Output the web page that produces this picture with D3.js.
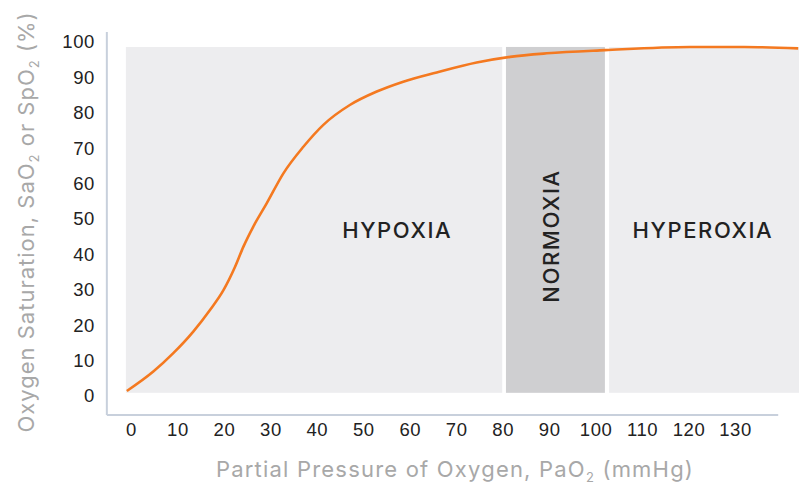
<!DOCTYPE html>
<html>
<head>
<meta charset="utf-8">
<script src="https://cdn.jsdelivr.net/npm/d3@7"></script>
<style>
  body { margin: 0; background: #fff; }
  svg { display: block; font-family: Inter, "Open Sans", sans-serif; }
</style>
</head>
<body>
<div id="chart"></div>
<script>
// curve readings (PaO2 in mmHg, saturation in %)
let pao2 = [-0.9, 4.8, 9.1, 13.4, 17.0, 19.9, 22.4, 24.2, 26.3, 29.2, 32.8, 37.1, 41.4, 47.1,
            52.9, 58.6, 65.8, 74.4, 81.6, 89.5, 102, 120.3, 132, 143.6];
let sat   = [1.4, 6.9, 12.1, 18.2, 24.3, 29.9, 36.5, 42.2, 47.8, 54.4, 62.9, 70.4, 76.6, 82.2,
            86.0, 88.8, 91.4, 94.2, 95.8, 96.8, 97.7, 98.6, 98.6, 98.2];

// shaded regions
let bandNames = ['HYPOXIA', 'NORMOXIA', 'HYPEROXIA'];
let bandFrom  = [-1.1, 80.7, 102.9];
let bandTo    = [79.9, 102.0, 144];
let bandLabelAt = [57.3, 90.3, 123.1];
let bandTop = 98.6, bandBottom = 0.9;

let xTicks = d3.range(0, 131, 10);
let yTicks = d3.range(0, 101, 10);

let config = {
    svg: {width: 799, height: 487}
};

// scales fitted to tick positions in the picture
let x = d3.scaleLinear().domain([0, 130]).range([131, 735]);
let y = d3.scaleLinear().domain([0, 100]).range([396, 42]);

let svg = d3.select('#chart')
    .append('svg')
        .attr('width', config.svg.width)
        .attr('height', config.svg.height);

// bands
let bands = bandNames.map((name, i) => ({name, from: bandFrom[i], to: bandTo[i], at: bandLabelAt[i]}));

svg.append('g')
    .selectAll('rect')
    .data(bands)
    .join('rect')
        .attr('x', d => x(d.from))
        .attr('width', d => x(d.to) - x(d.from))
        .attr('y', y(bandTop))
        .attr('height', y(bandBottom) - y(bandTop))
        .attr('fill', d => d.name === 'NORMOXIA' ? '#cfcfd1' : '#ededef');

// band labels
svg.append('g')
    .selectAll('text')
    .data(bands)
    .join('text')
        .attr('transform', d => d.name === 'NORMOXIA'
            ? `translate(${x(d.at) + 8},236) rotate(-90)`
            : `translate(${x(d.at)},238)`)
        .attr('text-anchor', 'middle')
        .attr('font-size', 22)
        .attr('font-weight', 500)
        .attr('fill', '#222')
        .attr('letter-spacing', 1.6)
        .text(d => d.name);

// axis frame lines
let frameX = [-5.2, 139.3], frameY = [-5.4, 102.8];
svg.append('line')
    .attr('x1', x(frameX[0])).attr('x2', x(frameX[0]))
    .attr('y1', y(frameY[0])).attr('y2', y(frameY[1]))
    .attr('stroke', '#c8d0dc').attr('stroke-width', 2);
svg.append('line')
    .attr('x1', x(frameX[0])).attr('x2', x(frameX[1]))
    .attr('y1', y(frameY[0])).attr('y2', y(frameY[0]))
    .attr('stroke', '#c8d0dc').attr('stroke-width', 2);

// curve
let points = pao2.map((p, i) => [p, sat[i]]);
let line = d3.line()
    .x(d => x(d[0]))
    .y(d => y(d[1]))
    .curve(d3.curveMonotoneX);

svg.append('path')
    .datum(points)
    .attr('d', line)
    .attr('fill', 'none')
    .attr('stroke', '#f47920')
    .attr('stroke-width', 2.6);

// axes
let yAxis = g => g
    .attr('transform', 'translate(95,0)')
    .call(d3.axisLeft(y).tickValues(yTicks).tickSize(0).tickPadding(0))
    .call(g => g.select('.domain').remove())
    .call(g => g.selectAll('text')
        .attr('font-size', 18.5).attr('font-weight', 500).attr('letter-spacing', 0.6)
        .attr('fill', '#222').attr('font-family', null));

let xAxis = g => g
    .attr('transform', 'translate(0,423)')
    .call(d3.axisBottom(x).tickValues(xTicks).tickSize(0).tickPadding(0))
    .call(g => g.select('.domain').remove())
    .call(g => g.selectAll('text')
        .attr('font-size', 18.5).attr('font-weight', 500).attr('letter-spacing', 0.6)
        .attr('fill', '#222').attr('font-family', null));

svg.append('g').call(yAxis);
svg.append('g').call(xAxis);

// axis titles
let xTitle = svg.append('text')
    .attr('x', 455).attr('y', 477)
    .attr('text-anchor', 'middle')
    .attr('font-size', 22)
    .attr('letter-spacing', 1.2)
    .attr('fill', '#a8a8a8');
xTitle.append('tspan').text('Partial Pressure of Oxygen, PaO');
xTitle.append('tspan').attr('font-size', 13).attr('dy', 5).text('2');
xTitle.append('tspan').attr('dy', -5).text(' (mmHg)');

let yTitle = svg.append('text')
    .attr('transform', 'translate(34,222) rotate(-90)')
    .attr('text-anchor', 'middle')
    .attr('font-size', 22)
    .attr('letter-spacing', 1.0)
    .attr('fill', '#a8a8a8');
yTitle.append('tspan').text('Oxygen Saturation, SaO');
yTitle.append('tspan').attr('font-size', 13).attr('dy', 5).text('2');
yTitle.append('tspan').attr('dy', -5).text(' or SpO');
yTitle.append('tspan').attr('font-size', 13).attr('dy', 5).text('2');
yTitle.append('tspan').attr('dy', -5).text(' (%)');
</script>
</body>
</html>
